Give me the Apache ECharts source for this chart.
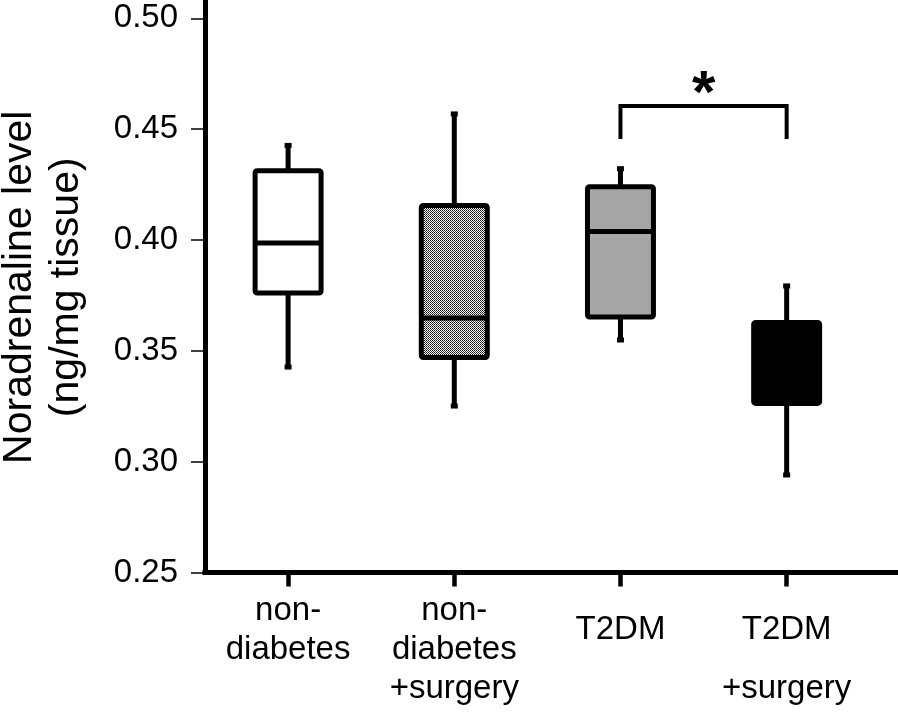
<!DOCTYPE html>
<html>
<head>
<meta charset="utf-8">
<script src="https://cdn.jsdelivr.net/npm/echarts@6/dist/echarts.min.js"></script>
<style>
html,body{margin:0;padding:0;background:#fff;}
#chart{width:898px;height:712px;}
</style>
</head>
<body>
<div id="chart"></div>
<script>
// ---- data ----
const categories = ['non-diabetes', 'non-diabetes +surgery', 'T2DM', 'T2DM +surgery'];
const labelLines = [['non-', 'diabetes'], ['non-', 'diabetes', '+surgery'], ['T2DM'], ['T2DM', '+surgery']];
const positions = [1, 2, 3, 4];
const whiskerLow  = [0.3427, 0.3251, 0.3549, 0.2940];
const q1          = [0.3761, 0.3470, 0.3653, 0.3263];
const median      = [0.3987, 0.3648, 0.4038, 0.3450];
const q3          = [0.4313, 0.4156, 0.4241, 0.3628];
const whiskerHigh = [0.4427, 0.4569, 0.4322, 0.3793];
const yTicks = [0.25, 0.30, 0.35, 0.40, 0.45, 0.50];
const yTitle = 'Noradrenaline level\n(ng/mg tissue)';
// significance bracket: from group 3 to group 4, top value, leg bottom value
const sigFrom = [3];
const sigTo = [4];
const sigTop = [0.4605];
const sigLeg = [0.4456];
const sigMark = ['*'];

// ---- styling ----
const FONT = "'Liberation Sans', Arial, Helvetica, sans-serif";

function makePattern() {
  const c = document.createElement('canvas');
  c.width = 4; c.height = 4;
  const ctx = c.getContext('2d');
  for (let y = 0; y < 4; y++) for (let x = 0; x < 4; x++) {
    let col;
    if ((x + y) % 2 === 1) col = '#f4f4f4';
    else if (x % 2 === 0) col = '#111111';
    else col = '#404040';
    ctx.fillStyle = col;
    ctx.fillRect(x, y, 1, 1);
  }
  return c;
}
const fills = ['#ffffff', { image: makePattern(), repeat: 'repeat' }, '#a6a6a6', '#000000'];

const boxData = positions.map((p, i) => [p, whiskerLow[i], q1[i], median[i], q3[i], whiskerHigh[i]]);
const sigData = sigFrom.map((f, i) => [f, sigTo[i], sigTop[i], sigLeg[i]]);

const BOX_W = 0.397; // in x-axis units

const chart = echarts.init(document.getElementById('chart'), null, { renderer: 'canvas' });

chart.setOption({
  animation: false,
  backgroundColor: '#fff',
  grid: { left: 205, right: 0, top: 2, bottom: 139.5, containLabel: false, outerBoundsMode: 'none' },
  xAxis: {
    type: 'value',
    min: 0.5,
    max: 4.67,
    splitLine: { show: false },
    axisLine: { show: true, lineStyle: { color: '#000', width: 5, cap: 'square' } },
    axisTick: { show: true, customValues: positions, length: 14, inside: false, lineStyle: { color: '#000', width: 4.5 } },
    axisLabel: {
      customValues: positions,
      margin: 19,
      color: '#000',
      fontFamily: FONT,
      fontSize: 33,
      formatter: function (v) {
        const i = Math.round(v) - 1;
        const lines = labelLines[i];
        if (!lines) return '';
        if (lines.length === 1) return '{s| }\n{a|' + lines[0] + '}';
        if (i === 3) return '{s| }\n{a|' + lines[0] + '}\n{b|' + lines[1] + '}';
        return lines.map(t => '{a|' + t + '}').join('\n');
      },
      rich: {
        a: { fontSize: 33, lineHeight: 39, fontFamily: FONT, color: '#000' },
        s: { fontSize: 10, lineHeight: 19, fontFamily: FONT, color: '#000' },
        b: { fontSize: 33, lineHeight: 78, fontFamily: FONT, color: '#000' }
      }
    }
  },
  yAxis: {
    type: 'value',
    min: 0.25,
    max: 0.5074,
    splitLine: { show: false },
    axisLine: { show: true, lineStyle: { color: '#000', width: 5, cap: 'square' } },
    axisTick: { show: true, customValues: yTicks, length: 14, inside: false, lineStyle: { color: '#000', width: 1.5 } },
    axisLabel: {
      customValues: yTicks,
      margin: 27,
      color: '#000',
      fontFamily: FONT,
      fontSize: 33,
      formatter: v => v.toFixed(2)
    },
    name: yTitle,
    nameLocation: 'middle',
    nameRotate: 90,
    nameGap: 115,
    nameTextStyle: { color: '#000', fontFamily: FONT, fontSize: 41, lineHeight: 47 }
  },
  series: [
    {
      type: 'custom',
      name: 'boxes',
      data: boxData,
      clip: false,
      renderItem: function (params, api) {
        const i = params.dataIndex;
        const x = api.value(0);
        const pLow = api.coord([x, api.value(1)]);
        const pQ1 = api.coord([x, api.value(2)]);
        const pMed = api.coord([x, api.value(3)]);
        const pQ3 = api.coord([x, api.value(4)]);
        const pHigh = api.coord([x, api.value(5)]);
        const cx = pQ1[0];
        const hw = api.size([BOX_W, 0])[0] / 2;
        const children = [
          { type: 'line', shape: { x1: cx, y1: pQ3[1], x2: cx, y2: pHigh[1] }, style: { stroke: '#000', lineWidth: 5 } },
          { type: 'line', shape: { x1: cx, y1: pQ1[1], x2: cx, y2: pLow[1] }, style: { stroke: '#000', lineWidth: 5 } },
          { type: 'rect', shape: { x: cx - 3.5, y: pHigh[1] - 2.5, width: 7, height: 5 }, style: { fill: '#000' } },
          { type: 'rect', shape: { x: cx - 3.5, y: pLow[1] - 2.5, width: 7, height: 5 }, style: { fill: '#000' } },
          { type: 'rect', shape: { x: cx - hw, y: pQ3[1], width: 2 * hw, height: pQ1[1] - pQ3[1], r: 2 },
            style: { fill: fills[i], stroke: '#000', lineWidth: 5, lineJoin: 'round' } },
          { type: 'line', shape: { x1: cx - hw, y1: pMed[1], x2: cx + hw, y2: pMed[1] }, style: { stroke: '#000', lineWidth: 5 } }
        ];
        return { type: 'group', children: children };
      }
    },
    {
      type: 'custom',
      name: 'significance',
      data: sigData,
      clip: false,
      renderItem: function (params, api) {
        const i = params.dataIndex;
        const a = api.coord([api.value(0), api.value(2)]);
        const b = api.coord([api.value(1), api.value(2)]);
        const aLeg = api.coord([api.value(0), api.value(3)]);
        const bLeg = api.coord([api.value(1), api.value(3)]);
        return {
          type: 'group',
          children: [
            { type: 'polyline', shape: { points: [[aLeg[0], aLeg[1]], [a[0], a[1]], [b[0], b[1]], [bLeg[0], bLeg[1]]] },
              style: { stroke: '#000', lineWidth: 4, fill: null, lineJoin: 'miter' } },
            { type: 'text', x: (a[0] + b[0]) / 2, y: a[1] + 20,
              style: { text: sigMark[i], fill: '#000', font: 'bold 60px ' + FONT, textAlign: 'center', textVerticalAlign: 'bottom' } }
          ]
        };
      }
    }
  ]
});
</script>
</body>
</html>
